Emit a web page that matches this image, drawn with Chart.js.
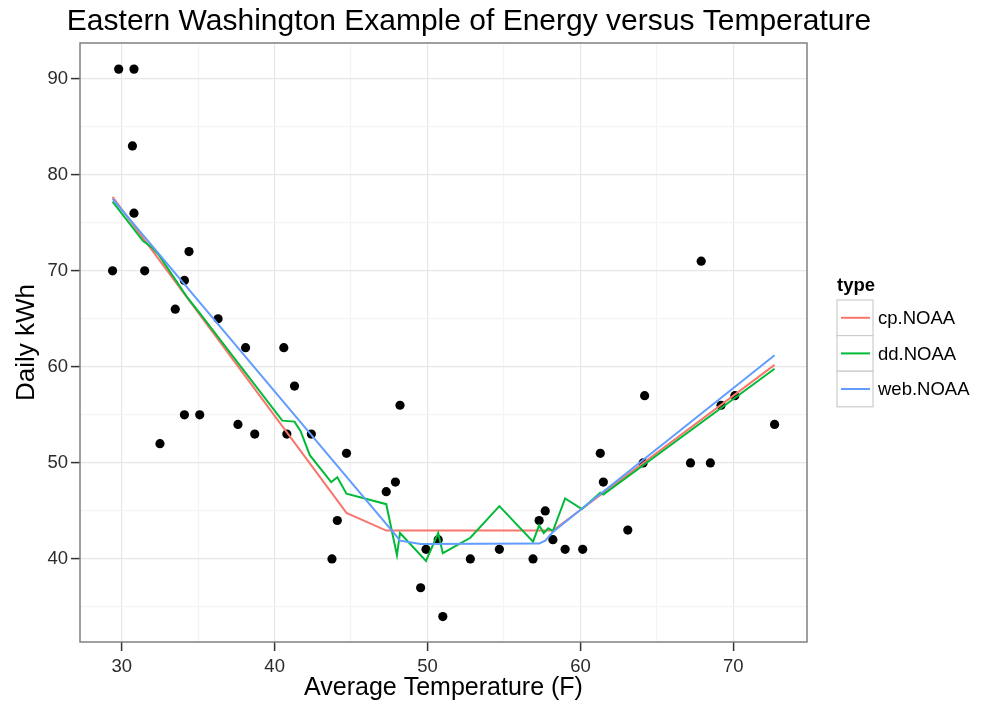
<!DOCTYPE html>
<html>
<head>
<meta charset="utf-8">
<title>Energy versus Temperature</title>
<script src="https://cdn.jsdelivr.net/npm/chart.js@4.4.1/dist/chart.umd.min.js"></script>
<style>
  html, body { margin: 0; padding: 0; background: #ffffff; }
  #contenedor { width: 991px; height: 706px; }
</style>
</head>
<body>
<div id="contenedor"><canvas id="graficoEnergia" width="991" height="706"></canvas></div>
<script>
// observaciones: temperatura media (F) y kWh diarios
const tempObs = [29.4, 29.8, 30.8, 30.7, 30.8, 31.5, 32.5, 33.5, 34.1, 34.4, 34.1, 35.1, 36.3, 37.6, 38.1, 38.7,
  40.6, 40.8, 41.3, 42.4, 44.7, 44.1, 43.75, 48.2, 47.3, 47.9, 49.9, 49.55, 50.7, 51.0, 52.8, 54.7, 56.9,
  57.3, 57.7, 58.2, 59.0, 60.15, 61.3, 61.5, 63.1, 64.2, 64.1, 67.9, 67.2, 68.5, 69.2, 70.1, 72.7];
const kwhObs = [70, 91, 91, 83, 76, 70, 52, 66, 69, 72, 55, 55, 65, 54, 62, 53,
  62, 53, 58, 53, 51, 44, 40, 56, 47, 48, 41, 37, 42, 34, 40, 41, 40,
  44, 45, 42, 41, 41, 51, 48, 43, 57, 50, 71, 50, 50, 56, 57, 54];

// modelos ajustados
const cpX = [29.4, 44.7, 47.3, 58.2, 72.7];
const cpY = [77.7, 44.8, 42.95, 42.95, 60.2];

const ddX = [29.4, 31.4, 32.0, 32.4, 34.3, 35.1, 40.5, 41.3, 41.7, 42.3, 43.7, 44.1, 44.7, 47.3, 48.0, 48.2,
  49.9, 50.7, 51.0, 52.8, 54.7, 56.9, 57.3, 57.6, 57.9, 58.2, 59.0, 60.1, 61.3, 61.5, 72.7];
const ddY = [77.2, 73.1, 72.4, 71.7, 67.2, 65.6, 54.4, 54.3, 53.3, 50.8, 48.0, 48.5, 46.8, 45.7, 40.4, 42.7,
  39.8, 42.7, 40.6, 42.2, 45.5, 41.8, 43.5, 42.7, 43.2, 42.9, 46.3, 45.2, 46.9, 46.7, 59.8];

const webX = [29.4, 47.9, 48.2, 49.55, 57.3, 57.7, 58.2, 60.15, 72.7];
const webY = [77.5, 42.5, 41.9, 41.55, 41.6, 41.9, 42.8, 45.3, 61.2];

const xTicks = [30, 35, 40, 45, 50, 55, 60, 65, 70];
const yTicks = [35, 40, 45, 50, 55, 60, 65, 70, 75, 80, 85, 90];

const nombresSeries = ['cp.NOAA', 'dd.NOAA', 'web.NOAA'];
const coloresSeries = ['#F8766D', '#00BA38', '#619CFF'];

const FUENTE = '"Liberation Sans", Arial, sans-serif';

function unir(xs, ys) {
    return xs.map(function (x, i) { return { x: x, y: ys[i] }; });
}

// rejilla mayor / menor estilo ggplot
function colorRejilla(c) {
    return c.tick && c.tick.value % 10 === 0 ? '#e6e6e6' : '#f4f4f4';
}
function colorMarca(c) {
    return c.tick && c.tick.value % 10 === 0 ? '#333333' : 'rgba(0,0,0,0)';
}

// titulo, borde del panel y leyenda
const extras = {
    id: 'extras',
    afterDraw: function (chart) {
        const c = chart.ctx;
        const a = chart.chartArea;
        c.save();

        c.strokeStyle = '#808080';
        c.lineWidth = 1.5;
        c.strokeRect(a.left, a.top, a.right - a.left, a.bottom - a.top);

        c.fillStyle = '#000000';
        c.font = '30px ' + FUENTE;
        c.textAlign = 'center';
        c.textBaseline = 'alphabetic';
        c.fillText('Eastern Washington Example of Energy versus Temperature', 469, 30);

        c.font = 'bold 18.5px ' + FUENTE;
        c.textAlign = 'left';
        c.fillText('type', 837, 291);

        c.font = '18.5px ' + FUENTE;
        c.textBaseline = 'middle';
        for (let i = 0; i < nombresSeries.length; i++) {
            const y0 = 300 + i * 35.6;
            c.fillStyle = '#ffffff';
            c.fillRect(837, y0, 36, 35.6);
            c.strokeStyle = '#cccccc';
            c.lineWidth = 1.2;
            c.strokeRect(837, y0, 36, 35.6);
            c.strokeStyle = coloresSeries[i];
            c.lineWidth = 2;
            c.beginPath();
            c.moveTo(841, y0 + 17.8);
            c.lineTo(870, y0 + 17.8);
            c.stroke();
            c.fillStyle = '#000000';
            c.fillText(nombresSeries[i], 878, y0 + 19);
        }
        c.restore();
    }
};

const ctx = document.getElementById('graficoEnergia').getContext('2d');

var chart = new Chart(ctx, {
    type: 'scatter',
    data: {
        datasets: [{
            type: 'line',
            label: nombresSeries[0],
            data: unir(cpX, cpY),
            borderColor: coloresSeries[0],
            borderWidth: 2,
            pointRadius: 0,
            tension: 0,
            order: 3
        },
        {
            type: 'line',
            label: nombresSeries[1],
            data: unir(ddX, ddY),
            borderColor: coloresSeries[1],
            borderWidth: 2,
            pointRadius: 0,
            tension: 0,
            order: 2
        },
        {
            type: 'line',
            label: nombresSeries[2],
            data: unir(webX, webY),
            borderColor: coloresSeries[2],
            borderWidth: 2,
            pointRadius: 0,
            tension: 0,
            order: 1
        },
        {
            label: 'observado',
            data: unir(tempObs, kwhObs),
            backgroundColor: '#000000',
            borderWidth: 0,
            pointRadius: 4.6,
            order: 4
        }]
    },
    options: {
        responsive: false,
        animation: false,
        layout: {
            padding: { top: 43, right: 184, left: 0, bottom: 0 }
        },
        scales: {
            x: {
                type: 'linear',
                min: 27.27,
                max: 74.82,
                afterBuildTicks: function (scale) {
                    scale.ticks = xTicks.map(function (v) { return { value: v }; });
                },
                afterFit: function (scale) { scale.height = 64; },
                grid: { color: colorRejilla, tickColor: colorMarca, tickLength: 9, tickWidth: 1.5, lineWidth: 1.2 },
                border: { display: false },
                ticks: {
                    color: '#2b2b2b',
                    padding: 5,
                    maxRotation: 0,
                    font: { size: 18.5, family: FUENTE },
                    callback: function (v) { return v % 10 === 0 ? v : ''; }
                },
                title: {
                    display: true,
                    text: 'Average Temperature (F)',
                    color: '#000000',
                    font: { size: 25, family: FUENTE },
                    padding: { top: 0, bottom: 3 }
                }
            },
            y: {
                min: 31.35,
                max: 93.72,
                afterBuildTicks: function (scale) {
                    scale.ticks = yTicks.map(function (v) { return { value: v }; });
                },
                afterFit: function (scale) { scale.width = 80; },
                grid: { color: colorRejilla, tickColor: colorMarca, tickLength: 9, tickWidth: 1.5, lineWidth: 1.2 },
                border: { display: false },
                ticks: {
                    color: '#2b2b2b',
                    padding: 3,
                    font: { size: 18.5, family: FUENTE },
                    callback: function (v) { return v % 10 === 0 ? v : ''; }
                },
                title: {
                    display: true,
                    text: 'Daily kWh',
                    color: '#000000',
                    font: { size: 26, family: FUENTE },
                    padding: { top: 11, bottom: 0 }
                }
            }
        },
        plugins: {
            legend: { display: false },
            tooltip: { enabled: false }
        }
    },
    plugins: [extras]
});
</script>
</body>
</html>
